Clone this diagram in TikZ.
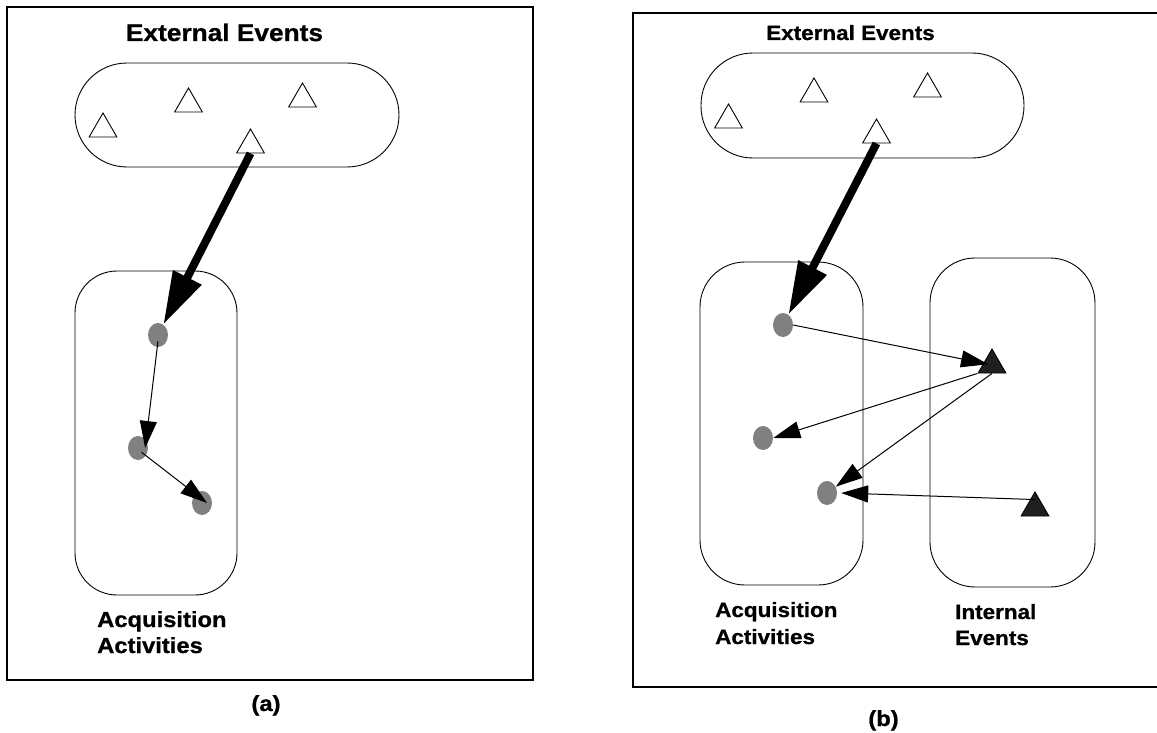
\documentclass[tikz,border=0pt]{standalone}
\usepackage{fontspec}
\setmainfont{Liberation Sans}[BoldFeatures={FakeBold=0.8}]
\usepackage{graphicx}
\usetikzlibrary{arrows.meta,shapes.geometric,calc}

% labels are set a little wider than the font's natural width
\newcommand\widetext[1]{\scalebox{1.09}[1]{#1}}

\begin{document}
\begin{tikzpicture}[x=1pt,y=-1pt,
  frame/.style={draw,line width=2.2pt},
  region/.style={draw,line width=0.9pt,rectangle,inner sep=0pt},
  extev/.style={draw,line width=0.9pt,fill=white,regular polygon,regular polygon sides=3,
                minimum size=32pt,inner sep=0pt},
  intev/.style={extev,fill=black!88},
  activity/.style={ellipse,fill=black!50,minimum width=20pt,minimum height=24pt,inner sep=0pt},
  trigger/.style={line width=8pt,-{Triangle[length=53pt,width=30pt]}},
  flow/.style={line width=1pt,-{Triangle[length=27pt,width=17pt]}},
  lab/.style={inner sep=0pt,font=\bfseries},
  titleA/.style={lab,font=\bfseries\fontsize{24.1pt}{28pt}\selectfont},
  labA/.style={lab,font=\bfseries\fontsize{21.8pt}{26pt}\selectfont},
  labB/.style={lab,font=\bfseries\fontsize{20.6pt}{25pt}\selectfont},
]
\useasboundingbox (0,0) rectangle (1157,733);

% ---------------- panel (a) ----------------
\draw[frame] (7,6.7) rectangle (533,680);

\node[region,minimum width=324pt,minimum height=104pt,rounded corners=52pt] (aext) at (237,115) {};
\node[region,minimum width=162pt,minimum height=324pt,rounded corners=42pt] (aacq) at (156,433) {};

\node[extev] (at1) at (103,129) {};
\node[extev] (at2) at (188.5,104) {};
\node[extev] (at3) at (302.5,99) {};
\node[extev] (at4) at (250.5,145) {};

\node[activity] (ad1) at (158,335) {};
\node[activity] (ad2) at (138,448) {};
\node[activity] (ad3) at (202,503) {};

\draw[trigger] (at4.south) -- (ad1);
\draw[flow] ($(ad1.center)!0.5!(ad1.south)$) -- ($(ad2.center)!0.7!(ad2.east)$);
\draw[flow] ($(ad2.center)!0.5!(ad2.south east)$) -- ($(ad3.center)!0.5!(ad3.east)$);

\node[titleA,anchor=base] (atitle) at (224.5,41) {\widetext{External Events}};
\node[labA,anchor=base west] (aacq1) at (97,627) {\widetext{Acquisition}};
\node[labA,anchor=base west] (aacq2) at (97,653) {\widetext{Activities}};
\node[labA,anchor=base] (acap) at (266,711) {\widetext{(a)}};

% ---------------- panel (b) ----------------
\draw[frame] (1157,13) -- (633,13) -- (633,687) -- (1157,687);

\node[region,minimum width=323pt,minimum height=105pt,rounded corners=52pt] (bext) at (862.5,105.5) {};
\node[region,minimum width=163pt,minimum height=323pt,rounded corners=45pt] (bacq) at (781.5,423.5) {};
\node[region,minimum width=165pt,minimum height=329pt,rounded corners=45pt] (bint) at (1012.5,422.5) {};

\node[extev] (bt1) at (728.5,120) {};
\node[extev] (bt2) at (814,94) {};
\node[extev] (bt3) at (927.5,89) {};
\node[extev] (bt4) at (876.5,135) {};

\node[intev] (it1) at (992,365) {};
\node[intev] (it2) at (1035,508) {};

\node[activity] (bd1) at (783,325) {};
\node[activity] (bd2) at (763,438) {};
\node[activity] (bd3) at (827,493) {};

\draw[trigger] (bt4.south) -- (bd1);
\draw[flow,shorten >=4pt] (bd1.east) -- (it1.center);
\draw[flow] (it1.corner 2) -- (bd2.east);
\draw[flow] (it1.south) -- (bd3);
\draw[flow] ($(it2.north)!0.5!(it2.center)$) -- ([xshift=4pt]bd3.east);

\node[labB,anchor=base] (btitle) at (850.5,40) {\widetext{External Events}};
\node[labB,anchor=base west] (bacq1) at (715,617) {\widetext{Acquisition}};
\node[labB,anchor=base west] (bacq2) at (715,644) {\widetext{Activities}};
\node[labB,anchor=base west] (bint1) at (955,619) {\widetext{Internal}};
\node[labB,anchor=base west] (bint2) at (955,645) {\widetext{Events}};
\node[labA,anchor=base] (bcap) at (883.5,726) {\widetext{(b)}};
\end{tikzpicture}
\end{document}
